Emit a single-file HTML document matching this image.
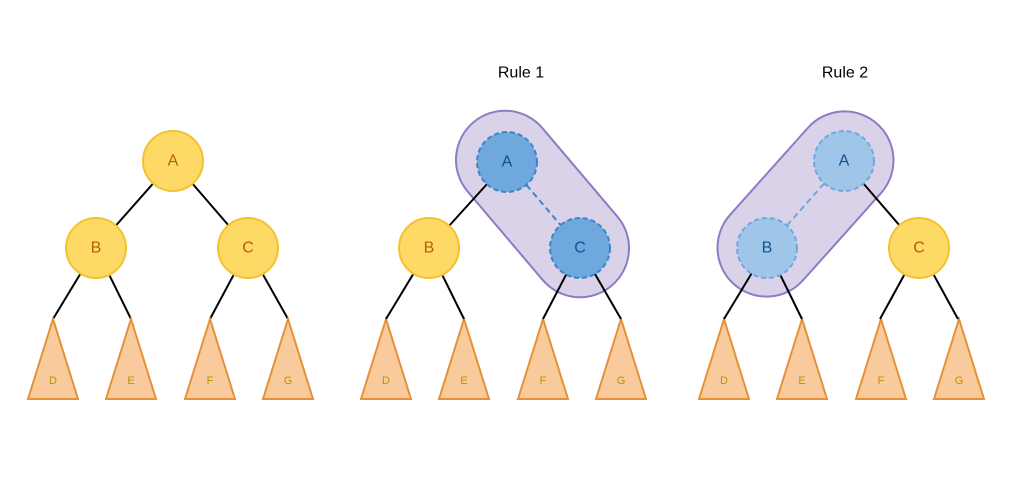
<!DOCTYPE html>
<html><head><meta charset="utf-8"><style>
html,body{margin:0;padding:0;background:#fff;}
svg{display:block;}
text{font-family:"Liberation Sans",Arial,sans-serif;text-anchor:middle;dominant-baseline:central;}
</style></head><body>
<svg width="1028" height="497" viewBox="0 0 1028 497" xmlns="http://www.w3.org/2000/svg">
<defs>
<g id="tris">
  <g fill="#f9cb9c" stroke="#e69138" stroke-width="2">
    <polygon points="53,319 28,399 78,399"/>
    <polygon points="131,319 106,399 156,399"/>
    <polygon points="210,319 185,399 235,399"/>
    <polygon points="288,319 263,399 313,399"/>
  </g>
  <g fill="#bf9000" font-size="11">
    <text x="53" y="381">D</text><text x="131" y="381">E</text>
    <text x="210" y="381">F</text><text x="288" y="381">G</text>
  </g>
</g>
</defs>

<!-- Tree 1 -->
<g>
  <g stroke="#000" stroke-width="2">
    <line x1="173" y1="161" x2="96" y2="248"/><line x1="173" y1="161" x2="248" y2="248"/>
    <line x1="96" y1="248" x2="53" y2="319"/><line x1="96" y1="248" x2="131" y2="319"/>
    <line x1="248" y1="248" x2="210" y2="319"/><line x1="248" y1="248" x2="288" y2="319"/>
  </g>
  <use href="#tris"/>
  <g fill="#ffd966" stroke="#f1c232" stroke-width="2">
    <circle cx="173" cy="161" r="30"/><circle cx="96" cy="248" r="30"/><circle cx="248" cy="248" r="30"/>
  </g>
  <g fill="#b45f06" font-size="16">
    <text x="173" y="161">A</text><text x="96" y="248">B</text><text x="248" y="248">C</text>
  </g>
</g>

<!-- Tree 2 -->
<text x="521" y="73" font-size="16" fill="#000">Rule 1</text>
<g transform="translate(333,0)"><use href="#tris"/></g>
<rect x="435.5" y="155" width="214" height="98" rx="49" fill="#d9d2e9" stroke="#8e7cc3" stroke-width="2" transform="rotate(49.7 542.5 204)"/>
<g stroke="#000" stroke-width="2">
  <line x1="507" y1="162" x2="429" y2="248"/>
  <line x1="429" y1="248" x2="386" y2="319"/><line x1="429" y1="248" x2="464" y2="319"/>
  <line x1="580" y1="248" x2="543" y2="319"/><line x1="580" y1="248" x2="621" y2="319"/>
</g>
<line x1="507" y1="162" x2="580" y2="248" stroke="#3d85c6" stroke-width="2" stroke-dasharray="6,4"/>
<circle cx="429" cy="248" r="30" fill="#ffd966" stroke="#f1c232" stroke-width="2"/>
<text x="429" y="248" fill="#b45f06" font-size="16">B</text>
<g fill="#6fa8dc" stroke="#3d85c6" stroke-width="2" stroke-dasharray="5,3">
  <circle cx="507" cy="162" r="30"/><circle cx="580" cy="248" r="30"/>
</g>
<g fill="#0b5394" font-size="16">
  <text x="507" y="162">A</text><text x="580" y="248">C</text>
</g>

<!-- Tree 3 -->
<text x="845" y="73" font-size="16" fill="#000">Rule 2</text>
<g transform="translate(671,0)"><use href="#tris"/></g>
<rect x="698" y="155" width="215" height="98" rx="49" fill="#d9d2e9" stroke="#8e7cc3" stroke-width="2" transform="rotate(-48.2 805.5 204)"/>
<g stroke="#000" stroke-width="2">
  <line x1="844" y1="161" x2="919" y2="248"/>
  <line x1="767" y1="248" x2="724" y2="319"/><line x1="767" y1="248" x2="802" y2="319"/>
  <line x1="919" y1="248" x2="880" y2="319"/><line x1="919" y1="248" x2="958" y2="319"/>
</g>
<line x1="767" y1="248" x2="844" y2="161" stroke="#6fa8dc" stroke-width="2" stroke-dasharray="6,4"/>
<g fill="#9fc5e8" stroke="#6fa8dc" stroke-width="2" stroke-dasharray="5,3">
  <circle cx="844" cy="161" r="30"/><circle cx="767" cy="248" r="30"/>
</g>
<circle cx="919" cy="248" r="30" fill="#ffd966" stroke="#f1c232" stroke-width="2"/>
<g font-size="16">
  <text x="844" y="161" fill="#0b5394">A</text><text x="767" y="248" fill="#0b5394">B</text>
  <text x="919" y="248" fill="#b45f06">C</text>
</g>
</svg>
</body></html>
